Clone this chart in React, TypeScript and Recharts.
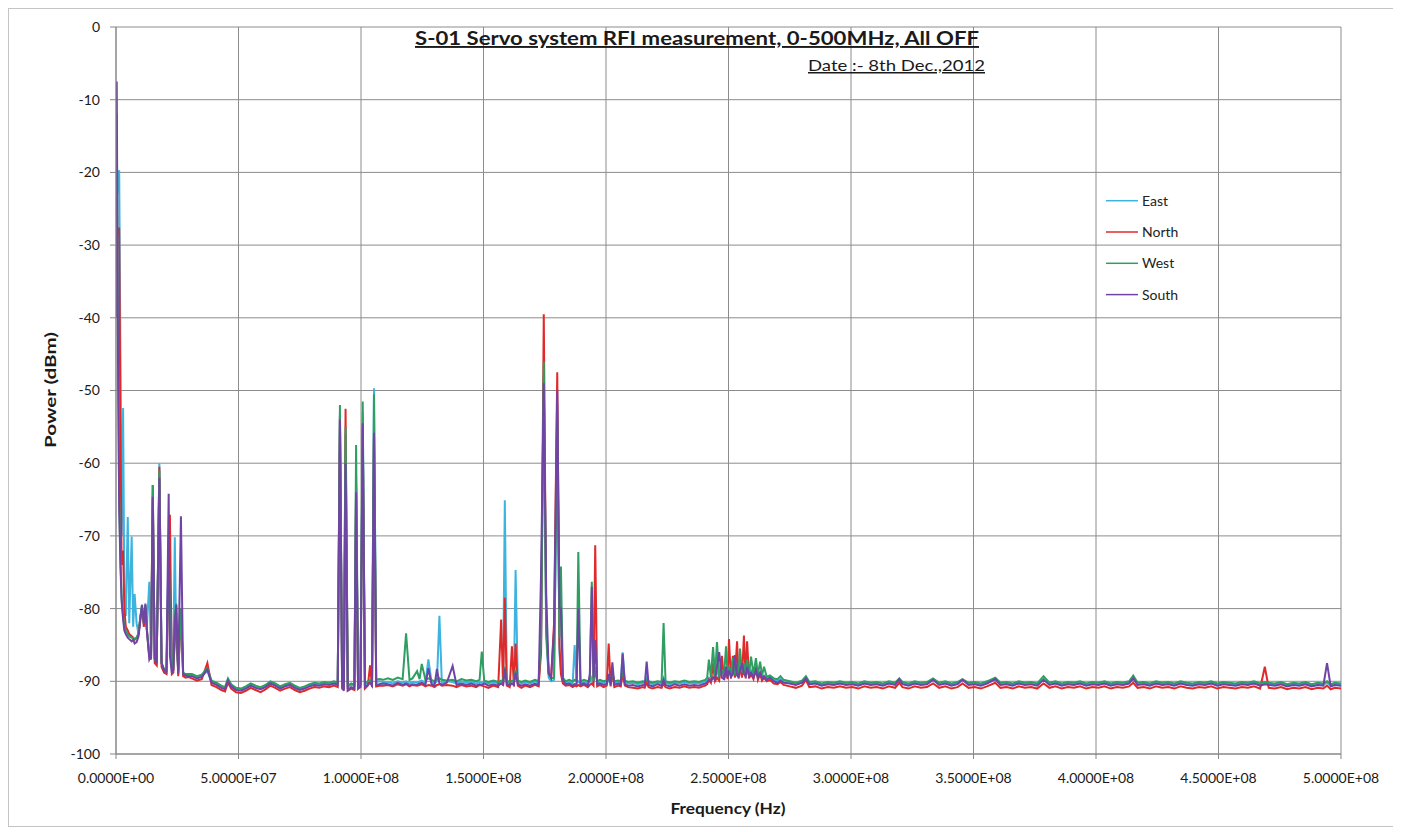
import React from 'react';
import { LineChart, Line, XAxis, YAxis, CartesianGrid } from 'recharts';

// Frequency grid in MHz (sections: 0-30, 30-90, 90-110, 110-240, 240-273, 273-500)
const FREQ_MHZ = [
  0, 0.3, 0.8, 1.3, 1.8, 2.3, 2.9, 3.4, 4.0, 4.8,
  5.4, 6.4, 7.0, 7.6, 8.4, 9.2, 10.0, 10.6, 11.4, 12.0,
  12.6, 13.6, 14.3, 15.0, 15.8, 16.6, 17.7, 18.6, 19.6, 20.6,
  21.5, 22.0, 22.8, 23.4, 24.0, 24.6, 25.4, 26.5, 27.4, 28.4, 29.5,
  // B
  31, 33, 35, 37.3, 39, 41, 43, 44.5, 45.7, 47,
  49, 51, 53, 55, 57, 59, 61, 63, 65, 67,
  69, 71, 73, 75, 77, 79, 81, 83, 85, 87, 89,
  // C
  90.5, 91.4, 92.3, 93.0, 93.7, 94.6, 96, 97.3, 98.0, 98.8,
  99.8, 100.7, 101.6, 102.8, 103.7, 104.5, 105.3, 106.2, 107.5, 109,
  // D
  111, 113, 115, 117, 118.4, 119.8, 121, 122.9, 123.9, 124.8,
  126.3, 127.5, 128.8, 130, 131, 132, 133, 135, 137.4, 139,
  141, 143, 145, 147, 148.4, 149.3, 150.3, 152, 154, 156,
  157.2, 158.0, 158.7, 159.5, 160.7, 161.6, 162.4, 163.1, 164, 165.5,
  167, 169, 171, 172.5, 173.5, 174.6, 175.6, 176.6, 177.6, 178.8,
  180.1, 181.0, 181.6, 182.4, 183.5, 185, 186.4, 187.2, 188, 188.7,
  189.6, 191, 192.6, 193.4, 194.2, 194.9, 195.6, 196.4, 197.5, 199,
  200.3, 201.1, 201.9, 202.6, 203.4, 205, 206, 206.8, 207.7, 209,
  211, 213, 215, 215.8, 216.6, 217.4, 219, 221, 222.7, 223.5,
  224.3, 226, 228, 230, 232, 234, 236, 238, 239.5,
  // E
  240.5, 241.3, 242, 242.8, 243.7, 244.5, 245.3, 246.2, 247.3, 248.2,
  249, 249.6, 250.2, 251, 251.8, 252.6, 253.5, 254.1, 254.7, 255.5,
  256.3, 257, 257.6, 258.4, 259.2, 260.2, 261.2, 262, 262.9, 263.7,
  264.5, 265.6, 266.9, 268.5, 270, 271.2, 272.5,
  // F
  275, 277.5, 280, 281.6, 283, 285.5, 288, 290.5, 293, 295.5,
  298, 300.5, 303, 305.5, 308, 310.5, 313, 315.5, 318, 319.7,
  321, 323.5, 326, 328.5, 331, 333.5, 336, 338.5, 341, 343.5,
  345.5, 348, 350.5, 353, 355.5, 358.9, 361, 363.5, 366, 368.5,
  371, 373.5, 376, 378.6, 381, 383.5, 386, 388.5, 391, 393.5,
  396, 398.5, 401, 403.5, 406, 408.5, 411, 413.5, 415.2, 417,
  419.5, 422, 424.5, 427, 429.5, 432, 434.5, 437, 439.5, 442,
  444.5, 447, 449.5, 452, 454.5, 457, 459.5, 462, 464.5, 467,
  468.9, 470.5, 473, 475.5, 478, 480.5, 483, 485.5, 488, 490.5,
  492.8, 494.3, 495.8, 497.5, 500,
];

const EAST_DBM = [
  -35, -24, -21, -19.7, -45, -70, -52.4, -78, -81, -67.4,
  -82, -70.1, -82.5, -78, -82, -83.5, -81, -79.8, -82.5, -79.5,
  -82.5, -76.3, -86.8, -65, -87, -87.5, -60, -87.5, -88.5, -88.5,
  -70, -75, -87.8, -86, -70.2, -85, -88.5, -80, -89, -89, -89.2,
  // B
  -89.2, -89.5, -89.3, -88.6, -90.1, -90.4, -90.8, -91.0, -89.8, -90.6,
  -91.1, -91.2, -90.9, -90.5, -90.8, -91.0, -90.7, -90.2, -90.5, -90.9,
  -90.6, -90.4, -90.8, -91.1, -90.9, -90.6, -90.4, -90.5, -90.3, -90.4, -90.2,
  // C
  -90.3, -53, -90.6, -90.6, -56, -90.8, -90.5, -90.6, -62, -90.6,
  -90.4, -53, -90.5, -90.2, -90, -90.2, -49.7, -90.1, -90, -90.1,
  // D
  -90.1, -90.3, -90.0, -90.2, -90.0, -90.3, -90.1, -90.2, -90.0, -89.9,
  -90.2, -87.0, -90.1, -90.3, -90.0, -81.0, -90.2, -90.0, -90.1, -90.3,
  -90.0, -90.2, -90.1, -90.3, -90.1, -90.2, -90.0, -90.3, -90.1, -90.3,
  -90.1, -90.2, -65.1, -90.1, -90.3, -90.0, -90.2, -74.7, -90.1, -90.3,
  -90.1, -90.3, -90.0, -90.2, -85.0, -48.0, -84.0, -89.5, -90.0, -89.8,
  -52.0, -86.0, -88.5, -90.0, -90.3, -90.1, -90.3, -85.0, -90.2, -90.0,
  -90.3, -90.1, -90.3, -90.1, -89.5, -90.2, -88.0, -90.3, -90.1, -90.3,
  -90.1, -90.0, -90.2, -89.0, -90.3, -90.1, -90.2, -86.0, -90.1, -90.3,
  -90.2, -90.4, -90.2, -90.3, -89.5, -90.2, -90.4, -90.2, -90.3, -89.5,
  -90.2, -90.4, -90.2, -90.3, -90.1, -90.3, -90.2, -90.3, -90.1,
  // E
  -90.0, -89.8, -89.5, -89.7, -89.4, -89.6, -88.5, -89.5, -88.0, -89.4,
  -89.0, -89.3, -88.5, -89.2, -87.5, -89.2, -88.0, -89.3, -88.5, -89.1,
  -88.0, -89.2, -88.5, -89.2, -88.5, -89.3, -88.8, -89.4, -89.0, -89.5,
  -89.2, -89.6, -89.4, -89.8, -89.9, -89.7, -90.0,
  // F
  -90.2, -90.4, -90.1, -89.5, -90.3, -90.2, -90.5, -90.3, -90.4, -90.2,
  -90.4, -90.3, -90.5, -90.2, -90.4, -90.3, -90.5, -90.2, -90.4, -89.8,
  -90.3, -90.5, -90.2, -90.4, -90.3, -89.8, -90.4, -90.2, -90.5, -90.3,
  -89.8, -90.4, -90.3, -90.5, -90.2, -89.8, -90.4, -90.3, -90.5, -90.2,
  -90.4, -90.3, -90.5, -89.7, -90.4, -90.2, -90.5, -90.3, -90.4, -90.2,
  -90.5, -90.3, -90.4, -90.2, -90.5, -90.3, -90.4, -90.2, -89.6, -90.4,
  -90.3, -90.5, -90.2, -90.4, -90.3, -90.5, -90.2, -90.4, -90.5, -90.3,
  -90.4, -90.2, -90.5, -90.3, -90.4, -90.5, -90.3, -90.4, -90.2, -90.5,
  -90.3, -90.4, -90.5, -90.3, -90.6, -90.4, -90.5, -90.3, -90.6, -90.4,
  -90.5, -90.2, -90.6, -90.4, -90.5,
];

const NORTH_DBM = [
  -35, -29, -28, -27.6, -55, -74, -72, -80, -82.5, -83,
  -83.5, -83.8, -84, -84.3, -84, -83.5, -81, -80, -82.5, -80,
  -83, -86.5, -87, -63, -87.5, -87.8, -60.5, -88, -88.8, -89,
  -74, -67.1, -89, -88.8, -84, -82, -89.3, -80, -89.3, -89.5, -89.4,
  // B
  -89.6, -89.9, -89.7, -87.5, -90.5, -90.8, -91.2, -91.4, -90.2, -91.0,
  -91.5, -91.6, -91.3, -90.9, -91.2, -91.5, -91.1, -90.6, -90.9, -91.3,
  -91.0, -90.8, -91.2, -91.5, -91.3, -91.0, -90.8, -90.9, -90.7, -90.8, -90.6,
  // C
  -90.8, -53.5, -91, -91, -52.5, -91.3, -91, -91.2, -63, -91,
  -90.8, -55, -91, -90.6, -87.8, -90.8, -56, -90.7, -90.6, -90.6,
  // D
  -90.5, -90.7, -90.4, -90.6, -90.4, -90.7, -90.5, -90.6, -90.5, -90.4,
  -90.7, -90.5, -90.6, -90.8, -90.5, -90.4, -90.6, -90.5, -90.6, -90.8,
  -90.5, -90.7, -90.6, -90.8, -90.5, -90.6, -90.7, -90.9, -90.6, -90.8,
  -81.5, -90.6, -78.5, -90.6, -90.8, -85.2, -90.7, -84.8, -90.6, -90.9,
  -90.6, -90.8, -90.5, -90.7, -86.0, -39.5, -82.0, -89.0, -89.5, -82.0,
  -47.5, -85.0, -89.0, -90.3, -90.6, -90.5, -90.8, -90.6, -90.7, -90.5,
  -90.7, -90.5, -90.8, -90.5, -90.3, -90.6, -71.3, -90.7, -90.5, -90.8,
  -90.6, -84.8, -90.7, -88.5, -90.8, -90.6, -90.7, -89.0, -90.6, -90.8,
  -90.9, -91.0, -90.8, -90.9, -90.2, -90.8, -91.0, -90.8, -90.9, -90.3,
  -90.8, -91.0, -90.8, -90.9, -90.7, -90.9, -90.8, -90.9, -90.7,
  // E
  -90.6, -90.4, -89.8, -90.2, -87.5, -90.0, -89.5, -89.9, -86.5, -89.8,
  -88.5, -89.7, -84.2, -89.6, -86.5, -89.5, -84.5, -89.6, -88.0, -89.5,
  -83.7, -89.6, -84.5, -89.6, -89.0, -89.7, -88.0, -89.8, -89.0, -89.9,
  -89.5, -90.0, -89.8, -90.3, -90.4, -90.1, -90.5,
  // F
  -90.7, -90.9, -90.6, -89.8, -90.8, -90.7, -91.0, -90.8, -90.9, -90.7,
  -90.9, -90.8, -91.0, -90.7, -90.9, -90.8, -91.0, -90.7, -90.9, -90.2,
  -90.8, -91.0, -90.7, -90.9, -90.8, -90.3, -90.9, -90.7, -91.0, -90.8,
  -90.3, -90.9, -90.8, -91.0, -90.7, -90.2, -90.9, -90.8, -91.0, -90.7,
  -90.9, -90.8, -91.0, -90.3, -90.9, -90.7, -91.0, -90.8, -90.9, -90.7,
  -91.0, -90.8, -90.9, -90.7, -91.0, -90.8, -90.9, -90.7, -90.2, -90.9,
  -90.8, -91.0, -90.7, -90.9, -90.8, -91.0, -90.7, -90.9, -91.0, -90.8,
  -90.9, -90.7, -91.0, -90.8, -90.9, -91.0, -90.8, -90.9, -90.7, -91.0,
  -88.0, -90.9, -91.0, -90.8, -91.1, -90.9, -91.0, -90.8, -91.1, -90.9,
  -91.0, -90.6, -91.1, -90.9, -91.0,
];

const WEST_DBM = [
  -35, -12, -42, -65, -73, -78.5, -81, -82.5, -83, -83.5,
  -83.8, -84, -84, -84.2, -84, -83.4, -81, -79.5, -82, -79.5,
  -82.8, -86.5, -86.5, -63, -87, -87.2, -61, -87.5, -88.3, -88.5,
  -72, -80, -88.5, -88.3, -81, -79.3, -88.8, -80, -88.8, -89, -89,
  // B
  -89.0, -89.3, -89.1, -88.2, -89.9, -90.2, -90.6, -90.8, -89.6, -90.4,
  -90.9, -91.0, -90.7, -90.3, -90.6, -90.8, -90.5, -90.0, -90.3, -90.7,
  -90.4, -90.2, -90.6, -90.9, -90.7, -90.4, -90.2, -90.3, -90.1, -90.2, -90.0,
  // C
  -90.2, -52, -90.5, -90.5, -55, -90.6, -90.3, -90.5, -57.5, -90.5,
  -90.2, -51.5, -90.3, -90, -89.8, -90, -50.5, -89.8, -89.7, -89.8,
  // D
  -89.6, -89.8, -89.5, -89.7, -83.4, -89.8, -89.6, -88.6, -89.7, -87.6,
  -89.8, -89.6, -89.8, -90.0, -89.7, -89.6, -89.8, -89.9, -89.8, -90.0,
  -89.7, -89.9, -89.8, -90.0, -89.8, -85.9, -89.9, -90.1, -89.9, -90.1,
  -89.9, -90.0, -88.0, -89.9, -90.1, -89.9, -90.0, -88.5, -89.9, -90.1,
  -89.9, -90.1, -89.8, -90.0, -84.0, -46.0, -83.0, -88.8, -89.6, -89.5,
  -54.0, -84.0, -74.2, -89.5, -90.0, -89.8, -90.0, -89.8, -89.9, -72.2,
  -90.0, -89.8, -90.0, -89.9, -76.3, -89.9, -88.5, -90.0, -89.8, -90.0,
  -89.9, -89.8, -90.0, -88.8, -90.0, -89.9, -90.0, -88.5, -89.9, -90.1,
  -90.0, -90.2, -90.0, -90.1, -89.8, -90.0, -90.2, -90.0, -90.1, -82.0,
  -90.0, -90.2, -90.0, -90.1, -89.9, -90.1, -90.0, -90.1, -89.9,
  // E
  -89.8, -89.5, -87.0, -89.4, -85.3, -89.3, -84.6, -89.2, -88.5, -89.0,
  -85.2, -89.0, -88.0, -88.9, -86.8, -88.9, -88.5, -89.0, -85.5, -88.8,
  -87.5, -88.9, -87.0, -89.0, -86.6, -89.0, -86.8, -89.1, -87.3, -89.2,
  -88.0, -89.4, -89.2, -89.6, -89.7, -89.3, -89.8,
  // F
  -90.0, -90.2, -89.9, -89.3, -90.1, -90.0, -90.3, -90.1, -90.2, -90.0,
  -90.2, -90.1, -90.3, -90.0, -90.2, -90.1, -90.3, -90.0, -90.2, -89.6,
  -90.1, -90.3, -90.0, -90.2, -90.1, -89.6, -90.2, -90.0, -90.3, -90.1,
  -89.7, -90.2, -90.1, -90.3, -90.0, -89.5, -90.2, -90.1, -90.3, -90.0,
  -90.2, -90.1, -90.3, -89.3, -90.2, -90.0, -90.3, -90.1, -90.2, -90.0,
  -90.3, -90.1, -90.2, -90.0, -90.3, -90.1, -90.2, -90.0, -89.2, -90.2,
  -90.1, -90.3, -90.0, -90.2, -90.1, -90.3, -90.0, -90.2, -90.3, -90.1,
  -90.2, -90.0, -90.3, -90.1, -90.2, -90.3, -90.1, -90.2, -90.0, -90.3,
  -90.1, -90.2, -90.3, -90.1, -90.4, -90.2, -90.3, -90.1, -90.4, -90.2,
  -90.3, -90.0, -90.4, -90.2, -90.3,
];

const SOUTH_DBM = [
  -40, -7.5, -45, -66, -74, -79, -81.5, -83, -83.5, -84,
  -84.2, -84.5, -84.3, -84.8, -84.6, -83.8, -81.5, -79.5, -82, -79.3,
  -83, -87, -86.5, -64.6, -86.8, -87.5, -62, -87.5, -88.5, -88.8,
  -64.2, -86.5, -88.8, -88.5, -82, -79.5, -89, -67.3, -89, -89.2, -89.3,
  // B
  -89.3, -89.6, -89.4, -88.4, -90.2, -90.5, -90.9, -91.1, -89.9, -90.7,
  -91.2, -91.3, -91.0, -90.6, -90.9, -91.1, -90.8, -90.3, -90.6, -91.0,
  -90.7, -90.5, -90.9, -91.2, -91.0, -90.7, -90.5, -90.6, -90.4, -90.5, -90.3,
  // C
  -90.5, -54, -90.8, -91.3, -60, -91.2, -90.8, -91, -64, -91,
  -90.6, -54.5, -90.8, -90.5, -90.2, -90.6, -55.8, -90.5, -90.4, -90.3,
  // D
  -90.4, -90.6, -90.2, -90.5, -90.3, -90.6, -90.4, -90.5, -90.3, -90.2,
  -90.5, -88.2, -90.4, -90.6, -88.3, -90.3, -90.5, -90.2, -87.9, -90.5,
  -90.3, -90.5, -90.3, -90.6, -90.4, -90.5, -90.3, -90.6, -90.4, -90.6,
  -90.3, -90.5, -88.3, -90.4, -90.6, -90.3, -90.5, -88.8, -90.4, -90.6,
  -90.4, -90.6, -90.3, -90.5, -75.0, -49.0, -78.0, -88.8, -89.5, -83.0,
  -50.0, -80.0, -80.0, -89.8, -90.4, -90.3, -90.6, -90.4, -90.5, -80.0,
  -90.5, -90.3, -90.6, -89.0, -77.0, -89.5, -84.3, -90.4, -90.3, -90.5,
  -90.4, -89.0, -90.5, -87.4, -90.5, -90.3, -90.5, -86.2, -90.4, -90.6,
  -90.5, -90.7, -90.5, -90.6, -87.3, -90.5, -90.7, -90.4, -90.6, -89.8,
  -90.5, -90.7, -90.4, -90.6, -90.4, -90.6, -90.5, -90.6, -90.4,
  // E
  -90.3, -90.1, -89.8, -90.0, -89.5, -89.8, -88.0, -86.0, -89.5, -89.7,
  -88.0, -89.5, -88.5, -89.4, -89.0, -86.4, -89.2, -89.4, -88.5, -87.5,
  -89.0, -89.3, -88.0, -89.3, -88.8, -89.5, -88.5, -89.5, -88.8, -89.6,
  -89.3, -89.8, -89.5, -90.0, -90.2, -89.9, -90.2,
  // F
  -90.3, -90.5, -90.2, -89.6, -90.4, -90.3, -90.6, -90.4, -90.5, -90.3,
  -90.5, -90.4, -90.6, -90.3, -90.5, -90.4, -90.6, -90.3, -90.5, -89.7,
  -90.4, -90.6, -90.3, -90.5, -90.4, -89.8, -90.5, -90.3, -90.6, -90.4,
  -89.8, -90.5, -90.4, -90.6, -90.3, -89.7, -90.5, -90.4, -90.6, -90.3,
  -90.5, -90.4, -90.6, -89.8, -90.5, -90.3, -90.6, -90.4, -90.5, -90.3,
  -90.6, -90.4, -90.5, -90.3, -90.6, -90.4, -90.5, -90.3, -89.6, -90.5,
  -90.4, -90.6, -90.3, -90.5, -90.4, -90.6, -90.3, -90.5, -90.6, -90.4,
  -90.5, -90.3, -90.6, -90.4, -90.5, -90.6, -90.4, -90.5, -90.3, -90.6,
  -90.4, -90.5, -90.6, -90.4, -90.7, -90.5, -90.6, -90.4, -90.7, -90.5,
  -90.6, -87.5, -90.7, -90.5, -90.6,
];

const X_TICKS = [0, 5e7, 1e8, 1.5e8, 2e8, 2.5e8, 3e8, 3.5e8, 4e8, 4.5e8, 5e8];
const Y_TICKS = [0, -10, -20, -30, -40, -50, -60, -70, -80, -90, -100];

const SERIES = [
  { key: 'east', name: 'East', color: '#3db4e0' },
  { key: 'north', name: 'North', color: '#e02a2a' },
  { key: 'west', name: 'West', color: '#2f9e62' },
  { key: 'south', name: 'South', color: '#6f44a5' },
];

const n = Math.min(FREQ_MHZ.length, EAST_DBM.length, NORTH_DBM.length, WEST_DBM.length, SOUTH_DBM.length);
const data = FREQ_MHZ.slice(0, n).map((f, i) => ({
  hz: f * 1e6,
  east: EAST_DBM[i],
  north: NORTH_DBM[i],
  west: WEST_DBM[i],
  south: SOUTH_DBM[i],
}));

function sci(v: number): string {
  if (v === 0) return '0.0000E+00';
  const e = Math.floor(Math.log10(Math.abs(v)) + 1e-9);
  const m = v / Math.pow(10, e);
  return m.toFixed(4) + 'E' + (e < 0 ? '-' : '+') + String(Math.abs(e)).padStart(2, '0');
}

const W = 1386;
const H = 819;
const FONT = 'Lato, "Open Sans", sans-serif';

export default function App() {
  return (
    <div style={{ position: 'relative', width: W, height: H, fontFamily: FONT, background: '#fff' }}>
      <div style={{ position: 'absolute', left: 0, top: 0, width: W, height: H, boxSizing: 'border-box', border: '1px solid #c4c4c4' }} />
      <div style={{ position: 'absolute', left: 0, top: 0 }}>
        <LineChart width={W} height={H} data={data} margin={{ top: 19, right: 53, bottom: 43, left: 48 }}>
          <CartesianGrid stroke="#8c8c8c" strokeWidth={1} />
          <XAxis
            dataKey="hz"
            type="number"
            domain={[0, 5e8]}
            ticks={X_TICKS}
            tickFormatter={sci}
            allowDataOverflow
            height={30}
            tickSize={5}
            tickMargin={14}
            axisLine={{ stroke: '#868686' }}
            tickLine={{ stroke: '#868686' }}
            tick={{ fill: '#1a1a1a', fontSize: 14, fontFamily: FONT }}
          />
          <YAxis
            type="number"
            domain={[-100, 0]}
            ticks={Y_TICKS}
            allowDataOverflow
            width={60}
            tickSize={6}
            tickMargin={10}
            axisLine={{ stroke: '#868686' }}
            tickLine={{ stroke: '#868686' }}
            tick={{ fill: '#1a1a1a', fontSize: 14, fontFamily: FONT }}
          />
          {SERIES.map((s) => (
            <Line
              key={s.key}
              type="linear"
              dataKey={s.key}
              name={s.name}
              stroke={s.color}
              strokeWidth={2}
              dot={false}
              activeDot={false}
              isAnimationActive={false}
            />
          ))}
        </LineChart>
      </div>
      <svg width={W} height={H} style={{ position: 'absolute', left: 0, top: 0, pointerEvents: 'none' }}>
        <text x={407} y={37} fontFamily={FONT} fontWeight={700} fontSize={19} fill="#1a1a1a"
          textLength={564} lengthAdjust="spacingAndGlyphs" style={{ textDecoration: 'underline' }}>
          S-01 Servo system RFI measurement, 0-500MHz, All OFF
        </text>
        <text x={800} y={63} fontFamily={FONT} fontSize={15} fill="#1a1a1a"
          textLength={177} lengthAdjust="spacingAndGlyphs" style={{ textDecoration: 'underline' }}>
          Date :- 8th Dec.,2012
        </text>
        <text x={0} y={0} transform="translate(48 382) rotate(-90)" textAnchor="middle" fontFamily={FONT}
          fontWeight={700} fontSize={16} fill="#1a1a1a" textLength={116} lengthAdjust="spacingAndGlyphs">
          Power (dBm)
        </text>
        <text x={720} y={806} textAnchor="middle" fontFamily={FONT} fontWeight={700} fontSize={16} fill="#1a1a1a"
          textLength={115} lengthAdjust="spacingAndGlyphs">
          Frequency (Hz)
        </text>
        {SERIES.map((s, i) => (
          <g key={s.key}>
            <line x1={1098} x2={1130} y1={192.7 + i * 31.3} y2={192.7 + i * 31.3} stroke={s.color} strokeWidth={1.5} />
            <text x={1134} y={192.7 + i * 31.3 + 5} fontFamily={FONT} fontSize={14} fill="#222">{s.name}</text>
          </g>
        ))}
      </svg>
    </div>
  );
}
